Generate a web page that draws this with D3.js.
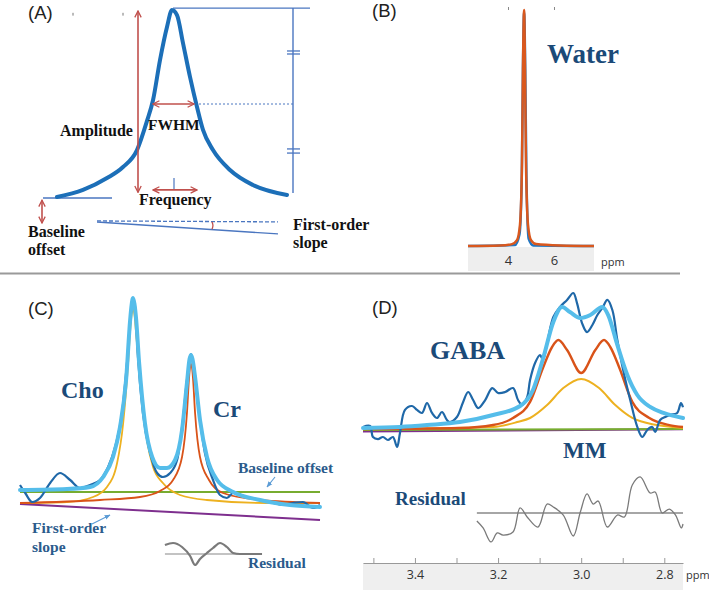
<!DOCTYPE html>
<html><head><meta charset="utf-8">
<script src="https://cdn.jsdelivr.net/npm/d3@7"></script>
<style>
html,body{margin:0;padding:0;background:#fff;}
svg{display:block;}
</style></head><body>
<svg id="c" width="709" height="590"></svg>
<script>
// ================= DATA =================
// Panel A : model Lorentzian (frequency offset in HWHM units, normalised amplitude)
const peakA = [[-5.8,0.005],[-4.5,0.043],[-3.3,0.106],[-2.5,0.165],[-1.8,0.255],[-1.3,0.41],[-1.0,0.52],[-0.65,0.734],[-0.3,0.91],[-0.05,1.0],[0.2,0.973],[0.5,0.824],[0.85,0.644],[1.2,0.484],[1.5,0.362],[2.0,0.255],[2.85,0.149],[4.0,0.069],[5.7,0.016]];
const amplitudeArrow = [[-1.75,0.995],[-1.75,0.03]];
const fwhmArrow = [[-1.0,0.5],[1.05,0.5]];
const halfLine = [[1.1,0.5],[6.0,0.5]];
const topLine = [[0,1.01],[6.85,1.01]];
const ampBar = [[6.0,1.01],[6.0,0.027]];
const breakLevels = [0.782,0.766,0.261,0.239];
const freqTick = [[0.05,0.106],[0.05,0.048]];
const freqArrow = [[-1.0,0.043],[1.2,0.043]];
const offsetLine = [[-6.5,0],[-3.05,0]];
const offsetArrow = [[-6.55,-0.012],[-6.55,-0.133]];
const slopeDashed = [[-3.8,-0.122],[5.25,-0.127]];
const slopeSolid = [[-3.8,-0.128],[5.25,-0.191]];
const angleMark = [[1.95,-0.127],[2.02,-0.147],[1.95,-0.166]];
const topTicksA = [-5.0,-2.5];

// Panel B : water (ppm, normalised)
const waterFit = [[2.26,0],[3.65,0.002],[4.17,0.008],[4.39,0.025],[4.52,0.09],[4.61,0.36],[4.65,0.75],[4.70,1.0],[4.74,0.75],[4.78,0.36],[4.87,0.09],[5.0,0.025],[5.22,0.008],[6.26,0.002],[7.74,0]];
const waterData = [[2.26,0],[4.3,0.004],[4.5,0.05],[4.6,0.3],[4.65,0.75],[4.70,0.99],[4.75,0.75],[4.8,0.3],[4.9,0.03],[5.1,0.002],[7.74,0]];
const waterTicks = [4,6];

// Panel C : Cho / Cr (ppm, normalised)
const choFit = [[3.590,0],[3.428,0.005],[3.338,0.03],[3.290,0.08],[3.255,0.2],[3.234,0.4],[3.217,0.7],[3.210,0.86],[3.205,0.94],[3.200,0.975],[3.195,0.94],[3.190,0.86],[3.176,0.615],[3.152,0.315],[3.131,0.18],[3.097,0.1],[3.038,0.04],[2.945,0.015],[2.738,0],[2.555,0]];
const crFit = [[3.590,0],[3.314,0.015],[3.176,0.03],[3.107,0.06],[3.062,0.115],[3.031,0.23],[3.014,0.45],[3.007,0.62],[3.004,0.67],[3.000,0.695],[2.996,0.67],[2.993,0.62],[2.986,0.45],[2.969,0.23],[2.938,0.115],[2.890,0.05],[2.762,0.015],[2.555,0]];
const totalFitC = [[3.590,0.065],[3.428,0.07],[3.348,0.08],[3.303,0.13],[3.269,0.23],[3.245,0.38],[3.224,0.615],[3.210,0.915],[3.205,0.99],[3.200,1.025],[3.195,0.995],[3.190,0.93],[3.179,0.7],[3.159,0.4],[3.134,0.23],[3.107,0.175],[3.083,0.175],[3.055,0.215],[3.031,0.365],[3.014,0.6],[3.005,0.72],[3.000,0.74],[2.995,0.72],[2.986,0.63],[2.969,0.415],[2.945,0.23],[2.910,0.115],[2.855,0.055],[2.762,0.015],[2.659,-0.01],[2.555,-0.02]];
const dataC = [[3.590,0.09],[3.572,0.05],[3.548,0.005],[3.521,0.025],[3.486,0.1],[3.452,0.15],[3.417,0.115],[3.383,0.075],[3.348,0.09],[3.314,0.115],[3.286,0.18],[3.262,0.28],[3.238,0.45],[3.221,0.7],[3.207,0.95],[3.200,1.015],[3.193,0.98],[3.183,0.73],[3.166,0.45],[3.141,0.25],[3.117,0.15],[3.097,0.13],[3.072,0.15],[3.048,0.215],[3.028,0.415],[3.014,0.615],[3.000,0.745],[2.990,0.68],[2.972,0.45],[2.952,0.25],[2.924,0.115],[2.900,0.04],[2.876,0.025],[2.855,0.05],[2.807,0.03],[2.762,0.015],[2.728,0.005],[2.683,-0.01],[2.648,0],[2.614,0.005],[2.579,-0.025],[2.555,-0.01]];
const baselineC = [[3.590,0.055],[2.555,0.055]];
const slopeC = [[3.590,-0.005],[2.555,-0.085]];
const residualC = [[3.090,0.045],[3.062,0.055],[3.031,0.035],[3.003,-0.01],[2.986,-0.055],[2.969,-0.025],[2.945,0.005],[2.924,0.03],[2.900,0.055],[2.876,0.035],[2.855,0.005],[2.831,0],[2.797,0],[2.755,0]];
const residualZeroC = [[3.090,0],[2.755,0]];

// Panel D : GABA / MM (ppm, normalised)
const dataD = [[3.525,0.015],[3.508,0.022],[3.501,-0.059],[3.489,-0.074],[3.477,-0.059],[3.465,-0.081],[3.453,-0.059],[3.443,-0.132],[3.436,-0.029],[3.424,0.140],[3.407,0.169],[3.395,0.140],[3.383,0.118],[3.371,0.191],[3.359,0.118],[3.347,0.081],[3.335,0.125],[3.323,0.066],[3.316,0.051],[3.299,0.088],[3.284,0.199],[3.272,0.272],[3.260,0.213],[3.248,0.154],[3.231,0.213],[3.214,0.301],[3.200,0.265],[3.183,0.272],[3.164,0.301],[3.152,0.213],[3.142,0.176],[3.130,0.235],[3.123,0.360],[3.111,0.485],[3.099,0.544],[3.092,0.507],[3.082,0.632],[3.067,0.824],[3.051,0.897],[3.034,0.949],[3.019,1.000],[3.010,0.926],[2.998,0.779],[2.986,0.713],[2.973,0.765],[2.961,0.838],[2.949,0.890],[2.937,0.949],[2.925,0.875],[2.913,0.654],[2.899,0.434],[2.882,0.213],[2.865,0.015],[2.853,-0.059],[2.841,-0.007],[2.829,0.015],[2.822,-0.022],[2.810,0.066],[2.798,0.088],[2.786,0.103],[2.769,0.118],[2.760,0.191],[2.755,0.16]];
const totalFitD = [[3.525,0.007],[3.436,0.015],[3.371,0.029],[3.292,0.051],[3.212,0.103],[3.147,0.169],[3.116,0.287],[3.092,0.515],[3.067,0.787],[3.046,0.897],[3.027,0.860],[3.002,0.816],[2.978,0.838],[2.949,0.897],[2.935,0.838],[2.913,0.618],[2.889,0.397],[2.865,0.250],[2.834,0.162],[2.802,0.118],[2.755,0.081]];
const gabaFit = [[3.525,0],[3.292,0.007],[3.212,0.029],[3.164,0.081],[3.123,0.199],[3.092,0.449],[3.070,0.603],[3.055,0.654],[3.034,0.581],[3.000,0.412],[2.966,0.581],[2.945,0.654],[2.930,0.603],[2.908,0.449],[2.877,0.199],[2.836,0.081],[2.788,0.029],[2.755,0.015]];
const mmFit = [[3.525,0],[3.212,0.015],[3.154,0.051],[3.123,0.081],[3.082,0.176],[3.043,0.301],[3.000,0.368],[2.957,0.301],[2.918,0.176],[2.877,0.081],[2.817,0.029],[2.755,0.007]];
const baselineD = [[3.525,-0.007],[2.755,0.0]];
const slopeD = [[3.525,-0.018],[2.755,-0.002]];
const residualD = [[3.251,-0.059],[3.236,-0.110],[3.217,-0.213],[3.202,-0.147],[3.188,-0.162],[3.164,-0.140],[3.147,0.037],[3.128,-0.037],[3.104,-0.103],[3.082,0.066],[3.067,0.044],[3.043,-0.015],[3.019,-0.169],[3.002,0.007],[2.986,0.140],[2.971,0.066],[2.959,0.088],[2.937,-0.103],[2.913,-0.015],[2.896,-0.029],[2.877,0.206],[2.858,0.265],[2.834,0.147],[2.822,0.154],[2.805,0.000],[2.788,0.029],[2.773,-0.015],[2.759,-0.110],[2.755,-0.081]];
const residualZeroD = [[3.251,0],[2.755,0]];
const ppmTicksD = [3.5,3.4,3.3,3.2,3.1,3.0,2.9,2.8];

// ================= DRAWING =================
const svg = d3.select("#c");
const SERIF = "'Liberation Serif','Times New Roman',serif";
const SANS = "'Liberation Sans',Arial,sans-serif";
const RED = "#c0504d", THIN = "#4a76c0", TXT = "#1b4a78", TXT2 = "#2b5b8c";
const C_BLUE="#1f68a8", C_LBLUE="#55bdea", C_OR="#d95319", C_YE="#edb120", C_GR="#77ac30", C_PU="#7e2f8e", C_RES="#7a7a7a";

const defs = svg.append("defs");
function mk(id, color, filled){
  const m = defs.append("marker").attr("id",id).attr("viewBox","0 0 10 10")
    .attr("refX",9).attr("refY",5).attr("markerWidth",filled?6:8).attr("markerHeight",filled?6:8)
    .attr("markerUnits","userSpaceOnUse").attr("orient","auto-start-reverse");
  if(filled) m.append("path").attr("d","M0,1 L10,5 L0,9 Z").attr("fill",color);
  else m.append("path").attr("d","M1,1 L9,5 L1,9").attr("fill","none").attr("stroke",color).attr("stroke-width",1.6);
}
mk("ar","#c0504d",false);
mk("ab","#5b9bd5",true);

function line(xs, ys, curve){ return d3.line().x(d=>xs(d[0])).y(d=>ys(d[1])).curve(curve||d3.curveLinear); }
function text(x,y,s,size,fill,family,weight){
  return svg.append("text").attr("x",x).attr("y",y).text(s)
    .attr("font-size",size).attr("fill",fill).attr("font-family",family).attr("font-weight",weight||"normal");
}

// ---------- Panel A ----------
const xA = d3.scaleLinear().domain([-6,6]).range([53,293]);
const yA = d3.scaleLinear().domain([0,1]).range([198,10]);
const gA = svg.append("g");
const lA = line(xA,yA);
gA.selectAll(".tt").data(topTicksA).join("line").attr("x1",d=>xA(d)).attr("x2",d=>xA(d))
  .attr("y1",yA(0.985)).attr("y2",yA(0.97)).attr("stroke","#777").attr("stroke-width",1);
gA.append("path").attr("d",lA(topLine)).attr("stroke",THIN).attr("stroke-width",1.4).attr("fill","none");
gA.append("path").attr("d",lA(ampBar)).attr("stroke",THIN).attr("stroke-width",1.4).attr("fill","none");
gA.selectAll(".brk").data(breakLevels).join("line")
  .attr("x1",xA(5.7)).attr("x2",xA(6.35)).attr("y1",d=>yA(d)).attr("y2",d=>yA(d))
  .attr("stroke",THIN).attr("stroke-width",1.3);
gA.append("path").attr("d",lA(halfLine)).attr("stroke",THIN).attr("stroke-width",1).attr("stroke-dasharray","2,2").attr("fill","none");
gA.append("path").attr("d",lA(freqTick)).attr("stroke",THIN).attr("stroke-width",1.2).attr("fill","none");
gA.append("path").attr("d",lA(offsetLine)).attr("stroke",THIN).attr("stroke-width",1.4).attr("fill","none");
gA.append("path").attr("d",lA(slopeDashed)).attr("stroke",THIN).attr("stroke-width",1.3).attr("stroke-dasharray","4,2").attr("fill","none");
gA.append("path").attr("d",lA(slopeSolid)).attr("stroke",THIN).attr("stroke-width",1.4).attr("fill","none");
gA.append("path").attr("d",line(xA,yA,d3.curveBasis)(angleMark)).attr("stroke",RED).attr("stroke-width",1.3).attr("fill","none");
gA.append("path").attr("d",line(xA,yA,d3.curveMonotoneX)(peakA)).attr("stroke","#1c6fb8").attr("stroke-width",4).attr("fill","none").attr("stroke-linecap","round");
[amplitudeArrow,fwhmArrow,freqArrow,offsetArrow].forEach(a=>{
  gA.append("path").attr("d",lA(a)).attr("stroke",RED).attr("stroke-width",1.6).attr("fill","none")
    .attr("marker-start","url(#ar)").attr("marker-end","url(#ar)");
});
text(28,19,"(A)",18.5,"#222",SANS);
text(60,136,"Amplitude",16,"#111",SERIF,"bold");
text(148,130,"FWHM",15.5,"#111",SERIF,"bold");
text(139,205,"Frequency",16,"#111",SERIF,"bold");
text(28,237,"Baseline",16,"#111",SERIF,"bold");
text(28,255,"offset",16,"#111",SERIF,"bold");
text(293,230,"First-order",16,"#111",SERIF,"bold");
text(293,248,"slope",16,"#111",SERIF,"bold");

// separator
svg.append("line").attr("x1",0).attr("x2",680).attr("y1",273.5).attr("y2",273.5).attr("stroke","#9a9a9a").attr("stroke-width",2);

// ---------- Panel B ----------
const xB = d3.scaleLinear().domain([2.26,7.74]).range([468,594]);
const yB = d3.scaleLinear().domain([0,1]).range([246,10]);
svg.append("rect").attr("x",xB(2.26)).attr("y",247).attr("width",xB(7.74)-xB(2.26)).attr("height",24).attr("fill","#eeeeee");
const axB = svg.append("g").attr("transform","translate(0,247)")
  .call(d3.axisBottom(xB).tickValues(waterTicks).tickSize(0).tickPadding(9).tickFormat(d3.format("d")));
axB.select(".domain").remove();
axB.selectAll("text").attr("font-size",13).attr("font-family","'Open Sans',sans-serif").attr("fill","#333");
const axBt = svg.append("g").attr("transform","translate(0,10)")
  .call(d3.axisTop(xB).tickValues(waterTicks).tickSize(3).tickFormat(""));
axBt.select(".domain").remove();
axBt.selectAll("line").attr("stroke","#888");
text(601,266,"ppm",11,"#333","'Open Sans',sans-serif");
svg.append("path").attr("d",line(xB,yB,d3.curveMonotoneX)(waterData)).attr("stroke","#1f77c4").attr("stroke-width",2.5).attr("fill","none");
svg.append("path").attr("d",line(xB,yB,d3.curveMonotoneX)(waterFit)).attr("stroke","#d9581e").attr("stroke-width",2.5).attr("fill","none");
text(372,17,"(B)",18.5,"#222",SANS);
text(547,63,"Water",27,TXT,SERIF,"bold");

// ---------- Panel C ----------
const xC = d3.scaleLinear().domain([3.59,2.555]).range([20,320]);
const yC = d3.scaleLinear().domain([0,1]).range([503,303]);
const yCr = d3.scaleLinear().domain([0,1]).range([554,354]);
const mC = d3.curveMonotoneX;
svg.append("path").attr("d",line(xC,yC)(slopeC)).attr("stroke",C_PU).attr("stroke-width",2).attr("fill","none");
svg.append("path").attr("d",line(xC,yC)(baselineC)).attr("stroke",C_GR).attr("stroke-width",2.2).attr("fill","none");
svg.append("path").attr("d",line(xC,yC,mC)(choFit)).attr("stroke",C_YE).attr("stroke-width",1.8).attr("fill","none");
svg.append("path").attr("d",line(xC,yC,mC)(crFit)).attr("stroke",C_OR).attr("stroke-width",1.8).attr("fill","none");
svg.append("path").attr("d",line(xC,yC,mC)(dataC)).attr("stroke",C_BLUE).attr("stroke-width",2.2).attr("fill","none");
svg.append("path").attr("d",line(xC,yC,mC)(totalFitC)).attr("stroke",C_LBLUE).attr("stroke-width",4).attr("fill","none").attr("stroke-linecap","round");
svg.append("path").attr("d",line(xC,yCr)(residualZeroC)).attr("stroke","#888").attr("stroke-width",1.2).attr("fill","none");
svg.append("path").attr("d",line(xC,yCr,mC)(residualC)).attr("stroke",C_RES).attr("stroke-width",2.2).attr("fill","none");
svg.append("line").attr("x1",275).attr("y1",477).attr("x2",267).attr("y2",487).attr("stroke","#5b9bd5").attr("stroke-width",1.2).attr("marker-end","url(#ab)");
svg.append("line").attr("x1",92).attr("y1",524).attr("x2",110).attr("y2",515).attr("stroke","#5b9bd5").attr("stroke-width",1.2).attr("marker-end","url(#ab)");
text(28,315,"(C)",18.5,"#222",SANS);
text(61,398,"Cho",24,TXT,SERIF,"bold");
text(213,417,"Cr",24,TXT,SERIF,"bold");
text(238,473,"Baseline offset",15.5,TXT2,SERIF,"bold");
text(32,533,"First-order",15.5,TXT2,SERIF,"bold");
text(32,552,"slope",15.5,TXT2,SERIF,"bold");
text(248,568,"Residual",15.5,TXT2,SERIF,"bold");

// ---------- Panel D ----------
const xD = d3.scaleLinear().domain([3.525,2.755]).range([363,683]);
const yD = d3.scaleLinear().domain([0,1]).range([429,293]);
const yDr = d3.scaleLinear().domain([0,1]).range([513,377]);
svg.append("rect").attr("x",xD(3.525)).attr("y",563).attr("width",xD(2.755)-xD(3.525)).attr("height",27).attr("fill","#efefef");
const axD = svg.append("g").attr("transform","translate(0,563)")
  .call(d3.axisBottom(xD).tickValues(ppmTicksD).tickSizeInner(-5).tickSizeOuter(0).tickPadding(7)
    .tickFormat(v => (Math.round(v*10)%2===0 ? v.toFixed(1) : "")));
axD.select(".domain").attr("stroke","#999");
axD.selectAll("line").attr("stroke","#999");
axD.selectAll("text").attr("font-size",12.5).attr("font-family","'Open Sans',sans-serif").attr("fill","#333");
text(686,579,"ppm",11,"#333","'Open Sans',sans-serif");
svg.append("path").attr("d",line(xD,yD)(slopeD)).attr("stroke",C_PU).attr("stroke-width",2).attr("fill","none");
svg.append("path").attr("d",line(xD,yD)(baselineD)).attr("stroke",C_GR).attr("stroke-width",2.2).attr("fill","none");
svg.append("path").attr("d",line(xD,yD,mC)(mmFit)).attr("stroke",C_YE).attr("stroke-width",2).attr("fill","none");
svg.append("path").attr("d",line(xD,yD,mC)(gabaFit)).attr("stroke",C_OR).attr("stroke-width",2.4).attr("fill","none");
svg.append("path").attr("d",line(xD,yD,d3.curveCatmullRom.alpha(0.5))(dataD)).attr("stroke",C_BLUE).attr("stroke-width",2.2).attr("fill","none");
svg.append("path").attr("d",line(xD,yD,mC)(totalFitD)).attr("stroke",C_LBLUE).attr("stroke-width",4).attr("fill","none").attr("stroke-linecap","round");
svg.append("path").attr("d",line(xD,yDr)(residualZeroD)).attr("stroke","#888").attr("stroke-width",1.3).attr("fill","none");
svg.append("path").attr("d",line(xD,yDr,d3.curveCatmullRom.alpha(0.5))(residualD)).attr("stroke",C_RES).attr("stroke-width",1.3).attr("fill","none");
text(372,314,"(D)",18.5,"#222",SANS);
text(430,359,"GABA",26,TXT,SERIF,"bold");
text(563,458,"MM",23,TXT,SERIF,"bold");
text(395,505,"Residual",19,TXT,SERIF,"bold");
</script>
</body></html>
